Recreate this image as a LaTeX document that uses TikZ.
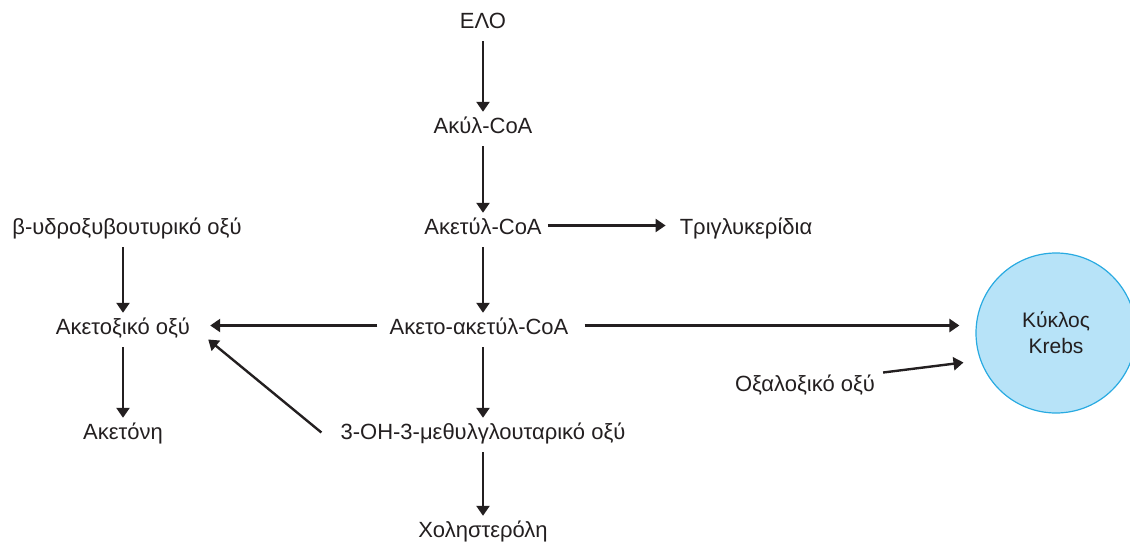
\documentclass[tikz,border=0pt]{standalone}
\usepackage{fontspec}
\setmainfont{Liberation Sans}
\usetikzlibrary{arrows.meta,calc}
\definecolor{krebsfill}{RGB}{183,227,248}
\definecolor{krebsline}{RGB}{40,170,225}
\definecolor{ink}{RGB}{35,31,32}
\tikzset{
  lbl/.style={inner sep=0pt, text height=16pt, text depth=5pt, font=\fontsize{22}{26}\selectfont, text=ink},
  arr/.style={line width=2.4pt, -{Triangle[length=10pt,width=13pt]}, ink},
  vert/.style={arr, shorten <=8pt, shorten >=5pt},
}
\begin{document}
\begin{tikzpicture}[x=1pt,y=-1pt]
\useasboundingbox (0,0) rectangle (1130,541);
\node[lbl, anchor=base] (elo) at (483,28) {ΕΛΟ};
\node[lbl, anchor=base] (acyl) at (483,133) {Ακύλ-CoA};
\node[lbl, anchor=base] (acet) at (483,234) {Ακετύλ-CoA};
\node[lbl, anchor=base] (tri) at (746,234) {Τριγλυκερίδια};
\node[lbl, anchor=base] (aac) at (479,334) {Ακετο-ακετύλ-CoA};
\node[lbl, anchor=base] (bhb) at (127,234) {β-υδροξυβουτυρικό οξύ};
\node[lbl, anchor=base] (ako) at (123,334) {Ακετοξικό οξύ};
\node[lbl, anchor=base] (acn) at (123,439) {Ακετόνη};
\node[lbl, anchor=base] (hmg) at (483,439) {3-OH-3-μεθυλγλουταρικό οξύ};
\node[lbl, anchor=base] (chol) at (483,537) {Χοληστερόλη};
\node[lbl, anchor=base] (oxa) at (805,391) {Οξαλοξικό οξύ};
\node[circle, minimum size=160pt, inner sep=0pt, fill=krebsfill, draw=krebsline, line width=1.2pt,
      font=\fontsize{21}{26}\selectfont, text=ink, align=center] (krebs) at (1056,333) {Κύκλος\\Krebs};
\draw[vert] (elo.south) -- (acyl.north);
\draw[vert] (acyl.south) -- (acet.north);
\draw[vert] (acet.south) -- (acet.south |- aac.north);
\draw[vert] (aac.south -| hmg.south) -- (hmg.north);
\draw[vert] (hmg.south) -- (chol.north);
\draw[vert] (bhb.south -| ako.south) -- (ako.north);
\draw[vert] (ako.south) -- (acn.north);
\draw[arr, shorten <=6pt, shorten >=14pt] ($(acet.east)+(0,-3)$) -- ($(tri.west)+(0,-3)$);
\draw[arr, shorten <=12pt, shorten >=20pt] ($(aac.west)+(0,-3)$) -- ($(ako.east)+(0,-3)$);
\draw[arr, shorten <=16pt, shorten >=16pt] ($(aac.east)+(0,-3)$) -- (krebs.west |- {$(aac.east)+(0,-3)$});
\draw[arr, shorten <=8pt, shorten >=12pt] ($(oxa.east)+(0,-12)$) -- (krebs.west |- {(0,361)});
\draw[arr] ($(hmg.west)+(-19,-1)$) -- ($(ako.east)+(18,11)$);
\end{tikzpicture}
\end{document}
